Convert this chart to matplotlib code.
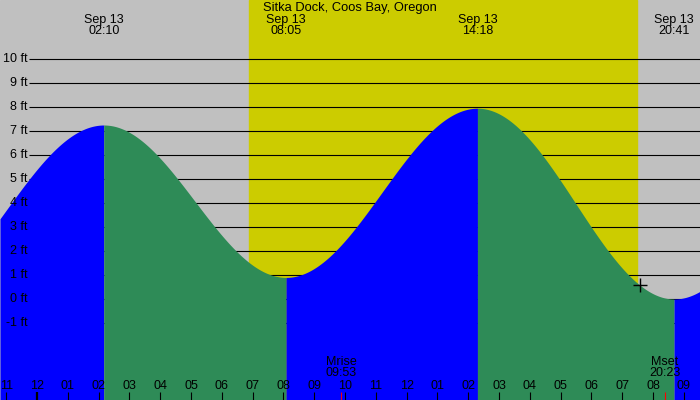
import numpy as np
import matplotlib
matplotlib.use("Agg")
import matplotlib.pyplot as plt

plt.rcParams['font.family'] = ['Liberation Sans', 'DejaVu Sans']

title = "Sitka Dock, Coos Bay, Oregon"
# tide extremes (hours from Sep 13 00:00) and heights (ft)
tide_hours = [-4.25, 2 + 10/60, 8 + 5/60, 14 + 18/60, 20 + 41/60, 26 + 50/60]
tide_heights = [0.0, 7.25, 0.9, 7.95, 0.0, 7.0]
tide_labels = ["02:10", "08:05", "14:18", "20:41"]
tide_date = "Sep 13"
sunrise = 6 + 53/60
sunset = 19 + 29/60
moon_events = ["Mrise", "Mset"]
moon_times = ["09:53", "20:23"]
moon_hours = [9 + 53/60, 20 + 23/60]
ft_levels = list(range(10, -2, -1))
hour_ticks = list(range(-1, 22))
hour_labels = ["11", "12", "01", "02", "03", "04", "05", "06", "07", "08", "09", "10",
               "11", "12", "01", "02", "03", "04", "05", "06", "07", "08", "09"]

PX_PER_H = 30.8
X0 = 37.0
PX_PER_FT = 24.0
Y0 = 299.0
xmin = -X0 / PX_PER_H
xmax = (700 - X0) / PX_PER_H
ymax = Y0 / PX_PER_FT
ymin = (Y0 - 400) / PX_PER_FT

fig = plt.figure(figsize=(7, 4), dpi=100)
ax = fig.add_axes([0, 0, 1, 1])
ax.set_xlim(xmin, xmax)
ax.set_ylim(ymin, ymax)
ax.axis('off')

ax.axvspan(xmin, xmax, color='#c0c0c0', zorder=0)
ax.axvspan(sunrise, sunset, color='#cccc00', zorder=1)

line_start = (29 - X0) / PX_PER_H
for lv in ft_levels:
    ax.plot([line_start, xmax], [lv, lv], color='black', lw=0.8, zorder=2,
            solid_capstyle='butt')
    ax.text(line_start - 0.06, lv, f"{lv} ft", ha='right', va='center',
            fontsize=9, zorder=6)

def tide_curve(t):
    th = np.array(tide_hours)
    hh = np.array(tide_heights)
    i = np.clip(np.searchsorted(th, t) - 1, 0, len(th) - 2)
    f = (t - th[i]) / (th[i + 1] - th[i])
    return hh[i] + (hh[i + 1] - hh[i]) * (1 - np.cos(np.pi * f)) / 2

for k in range(len(tide_hours) - 1):
    a = max(tide_hours[k], xmin)
    b = min(tide_hours[k + 1], xmax)
    if a >= b:
        continue
    t = np.linspace(a, b, 400)
    rising = tide_heights[k + 1] > tide_heights[k]
    ax.fill_between(t, ymin, tide_curve(t), color='#0000ff' if rising else '#2e8b57',
                    lw=0, zorder=3)

# marker at sunset on the curve
ax.plot([sunset + 0.08], [tide_curve(np.array([sunset + 0.08]))[0]], marker='+',
        color='black', ms=10, mew=1.0, zorder=5)

ax.text((350 - X0) / PX_PER_H, (Y0 - 8) / PX_PER_FT, title, ha='center',
        va='center', fontsize=9.3, zorder=6)
for h, lab in zip(tide_hours[1:5], tide_labels):
    ax.text(h, (Y0 - 19.5) / PX_PER_FT, tide_date, ha='center', va='center', fontsize=9, zorder=6)
    ax.text(h, (Y0 - 31.5) / PX_PER_FT, lab, ha='center', va='center', fontsize=9, zorder=6)

tick_top = (Y0 - 392) / PX_PER_FT
for h, lab in zip(hour_ticks, hour_labels):
    ax.text(h, (Y0 - 386) / PX_PER_FT, lab, ha='center', va='center', fontsize=9, zorder=6)
    ax.plot([h, h], [tick_top, ymin], color='black', lw=1.6 if h == 0 else 0.8, zorder=6,
            solid_capstyle='butt')

for h, ev, tm in zip(moon_hours, moon_events, moon_times):
    ax.text(h, (Y0 - 362) / PX_PER_FT, ev, ha='center', va='center', fontsize=9, zorder=6)
    ax.text(h, (Y0 - 373.5) / PX_PER_FT, tm, ha='center', va='center', fontsize=9, zorder=6)
    ax.plot([h, h], [tick_top, ymin], color='red', lw=0.8, zorder=6, solid_capstyle='butt')

fig.savefig("out.png", dpi=100)
